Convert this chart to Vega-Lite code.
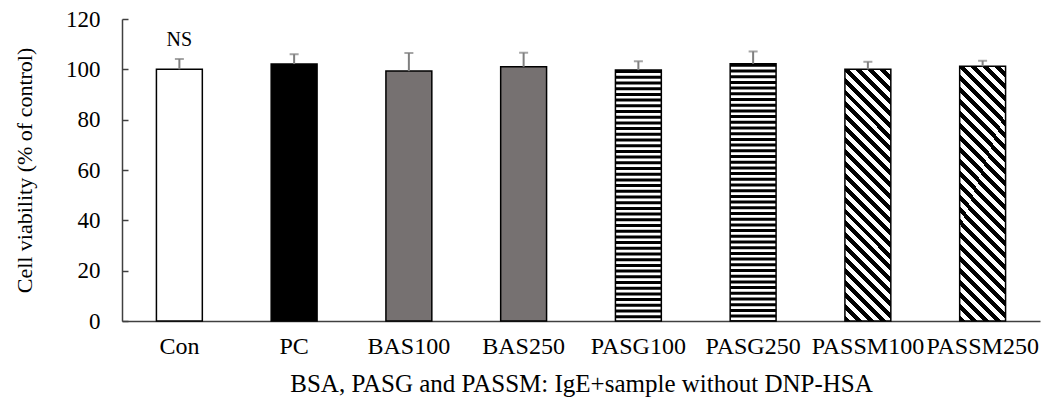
{
  "$schema": "https://vega.github.io/schema/vega-lite/v6.json",
  "width": 918,
  "height": 302,
  "autosize": "none",
  "padding": {"left": 122, "top": 19, "right": 8, "bottom": 82},
  "background": "white",
  "config": {
    "view": {"stroke": null},
    "font": "Liberation Serif",
    "axis": {
      "labelFont": "Liberation Serif",
      "titleFont": "Liberation Serif",
      "labelColor": "black",
      "titleColor": "black",
      "titleFontWeight": "normal",
      "grid": false,
      "domainColor": "#404040",
      "domainWidth": 1.5,
      "tickColor": "#404040",
      "tickWidth": 1.5
    }
  },
  "data": {
    "values": [
      {"group": "Con", "value": 100, "upper": 104.1, "note": "NS"},
      {"group": "PC", "value": 102.1, "upper": 106, "note": ""},
      {"group": "BAS100", "value": 99.3, "upper": 106.5, "note": ""},
      {"group": "BAS250", "value": 101, "upper": 106.6, "note": ""},
      {"group": "PASG100", "value": 99.7, "upper": 103.2, "note": ""},
      {"group": "PASG250", "value": 102.2, "upper": 107.1, "note": ""},
      {"group": "PASSM100", "value": 100, "upper": 103, "note": ""},
      {"group": "PASSM250", "value": 101.2, "upper": 103.4, "note": ""}
    ]
  },
  "encoding": {
    "x": {
      "field": "group",
      "type": "nominal",
      "scale": {
        "domain": ["Con", "PC", "BAS100", "BAS250", "PASG100", "PASG250", "PASSM100", "PASSM250"],
        "paddingInner": 0.6,
        "paddingOuter": 0.3
      },
      "axis": {
        "title": "BSA, PASG and PASSM: IgE+sample without DNP-HSA",
        "labelAngle": 0,
        "ticks": false,
        "labelFontSize": 24,
        "labelPadding": 13,
        "titleFontSize": 25,
        "titleY": 70,
        "titleBaseline": "alphabetic"
      }
    },
    "y": {
      "field": "value",
      "type": "quantitative",
      "title": "Cell viability (% of control)",
      "scale": {"domain": [0, 120], "nice": false},
      "axis": {
        "values": [0, 20, 40, 60, 80, 100, 120],
        "tickSize": -6,
        "labelPadding": 28,
        "labelFontSize": 23,
        "titleFontSize": 22,
        "titleX": -91,
        "titleY": 151,
        "titleAlign": "center",
        "titleBaseline": "alphabetic"
      }
    }
  },
  "layer": [
    {
      "mark": {"type": "bar", "strokeWidth": 0},
      "encoding": {
        "fill": {
          "field": "group",
          "type": "nominal",
          "scale": {
            "domain": ["Con", "PC", "BAS100", "BAS250", "PASG100", "PASG250", "PASSM100", "PASSM250"],
            "range": ["white", "black", "#767171", "#767171", "white", "white", "white", "white"]
          },
          "legend": null
        }
      }
    },
    {
      "transform": [{"filter": "datum.group === 'PASSM100' || datum.group === 'PASSM250'"}],
      "mark": {
        "type": "bar",
        "strokeWidth": 0,
        "fill": {
          "gradient": "linear",
          "x1": 0, "y1": 1, "x2": 0.2088, "y2": -0.144,
          "stops": [
            {"offset": 0, "color": "black"}, {"offset": 0.02, "color": "black"}, {"offset": 0.02, "color": "white"}, {"offset": 0.04, "color": "white"},
            {"offset": 0.04, "color": "black"}, {"offset": 0.06, "color": "black"}, {"offset": 0.06, "color": "white"}, {"offset": 0.08, "color": "white"},
            {"offset": 0.08, "color": "black"}, {"offset": 0.10, "color": "black"}, {"offset": 0.10, "color": "white"}, {"offset": 0.12, "color": "white"},
            {"offset": 0.12, "color": "black"}, {"offset": 0.14, "color": "black"}, {"offset": 0.14, "color": "white"}, {"offset": 0.16, "color": "white"},
            {"offset": 0.16, "color": "black"}, {"offset": 0.18, "color": "black"}, {"offset": 0.18, "color": "white"}, {"offset": 0.20, "color": "white"},
            {"offset": 0.20, "color": "black"}, {"offset": 0.22, "color": "black"}, {"offset": 0.22, "color": "white"}, {"offset": 0.24, "color": "white"},
            {"offset": 0.24, "color": "black"}, {"offset": 0.26, "color": "black"}, {"offset": 0.26, "color": "white"}, {"offset": 0.28, "color": "white"},
            {"offset": 0.28, "color": "black"}, {"offset": 0.30, "color": "black"}, {"offset": 0.30, "color": "white"}, {"offset": 0.32, "color": "white"},
            {"offset": 0.32, "color": "black"}, {"offset": 0.34, "color": "black"}, {"offset": 0.34, "color": "white"}, {"offset": 0.36, "color": "white"},
            {"offset": 0.36, "color": "black"}, {"offset": 0.38, "color": "black"}, {"offset": 0.38, "color": "white"}, {"offset": 0.40, "color": "white"},
            {"offset": 0.40, "color": "black"}, {"offset": 0.42, "color": "black"}, {"offset": 0.42, "color": "white"}, {"offset": 0.44, "color": "white"},
            {"offset": 0.44, "color": "black"}, {"offset": 0.46, "color": "black"}, {"offset": 0.46, "color": "white"}, {"offset": 0.48, "color": "white"},
            {"offset": 0.48, "color": "black"}, {"offset": 0.50, "color": "black"}, {"offset": 0.50, "color": "white"}, {"offset": 0.52, "color": "white"},
            {"offset": 0.52, "color": "black"}, {"offset": 0.54, "color": "black"}, {"offset": 0.54, "color": "white"}, {"offset": 0.56, "color": "white"},
            {"offset": 0.56, "color": "black"}, {"offset": 0.58, "color": "black"}, {"offset": 0.58, "color": "white"}, {"offset": 0.60, "color": "white"},
            {"offset": 0.60, "color": "black"}, {"offset": 0.62, "color": "black"}, {"offset": 0.62, "color": "white"}, {"offset": 0.64, "color": "white"},
            {"offset": 0.64, "color": "black"}, {"offset": 0.66, "color": "black"}, {"offset": 0.66, "color": "white"}, {"offset": 0.68, "color": "white"},
            {"offset": 0.68, "color": "black"}, {"offset": 0.70, "color": "black"}, {"offset": 0.70, "color": "white"}, {"offset": 0.72, "color": "white"},
            {"offset": 0.72, "color": "black"}, {"offset": 0.74, "color": "black"}, {"offset": 0.74, "color": "white"}, {"offset": 0.76, "color": "white"},
            {"offset": 0.76, "color": "black"}, {"offset": 0.78, "color": "black"}, {"offset": 0.78, "color": "white"}, {"offset": 0.80, "color": "white"},
            {"offset": 0.80, "color": "black"}, {"offset": 0.82, "color": "black"}, {"offset": 0.82, "color": "white"}, {"offset": 0.84, "color": "white"},
            {"offset": 0.84, "color": "black"}, {"offset": 0.86, "color": "black"}, {"offset": 0.86, "color": "white"}, {"offset": 0.88, "color": "white"},
            {"offset": 0.88, "color": "black"}, {"offset": 0.90, "color": "black"}, {"offset": 0.90, "color": "white"}, {"offset": 0.92, "color": "white"},
            {"offset": 0.92, "color": "black"}, {"offset": 0.94, "color": "black"}, {"offset": 0.94, "color": "white"}, {"offset": 0.96, "color": "white"},
            {"offset": 0.96, "color": "black"}, {"offset": 0.98, "color": "black"}, {"offset": 0.98, "color": "white"}, {"offset": 1, "color": "white"}
          ]
        }
      }
    },
    {
      "transform": [{"filter": "datum.group === 'PASG100' || datum.group === 'PASG250'"}],
      "mark": {"type": "rule", "color": "black", "strokeWidth": 45.9, "strokeDash": [3, 2.7], "strokeCap": "butt"},
      "encoding": {"y2": {"datum": 0}}
    },
    {
      "mark": {"type": "bar", "fillOpacity": 0, "stroke": "black", "strokeWidth": 1.5},
      "encoding": {}
    },
    {
      "mark": {"type": "rule", "color": "#7f7f7f", "strokeWidth": 2},
      "encoding": {"y2": {"field": "upper"}}
    },
    {
      "mark": {"type": "tick", "color": "#7f7f7f", "thickness": 2, "size": 9},
      "encoding": {"y": {"field": "upper", "type": "quantitative", "title": "Cell viability (% of control)"}}
    },
    {
      "transform": [{"filter": "datum.note !== ''"}],
      "mark": {"type": "text", "font": "Liberation Serif", "fontSize": 20, "color": "black", "baseline": "middle", "dy": -19},
      "encoding": {
        "y": {"field": "upper", "type": "quantitative", "title": "Cell viability (% of control)"},
        "text": {"field": "note"}
      }
    }
  ]
}
